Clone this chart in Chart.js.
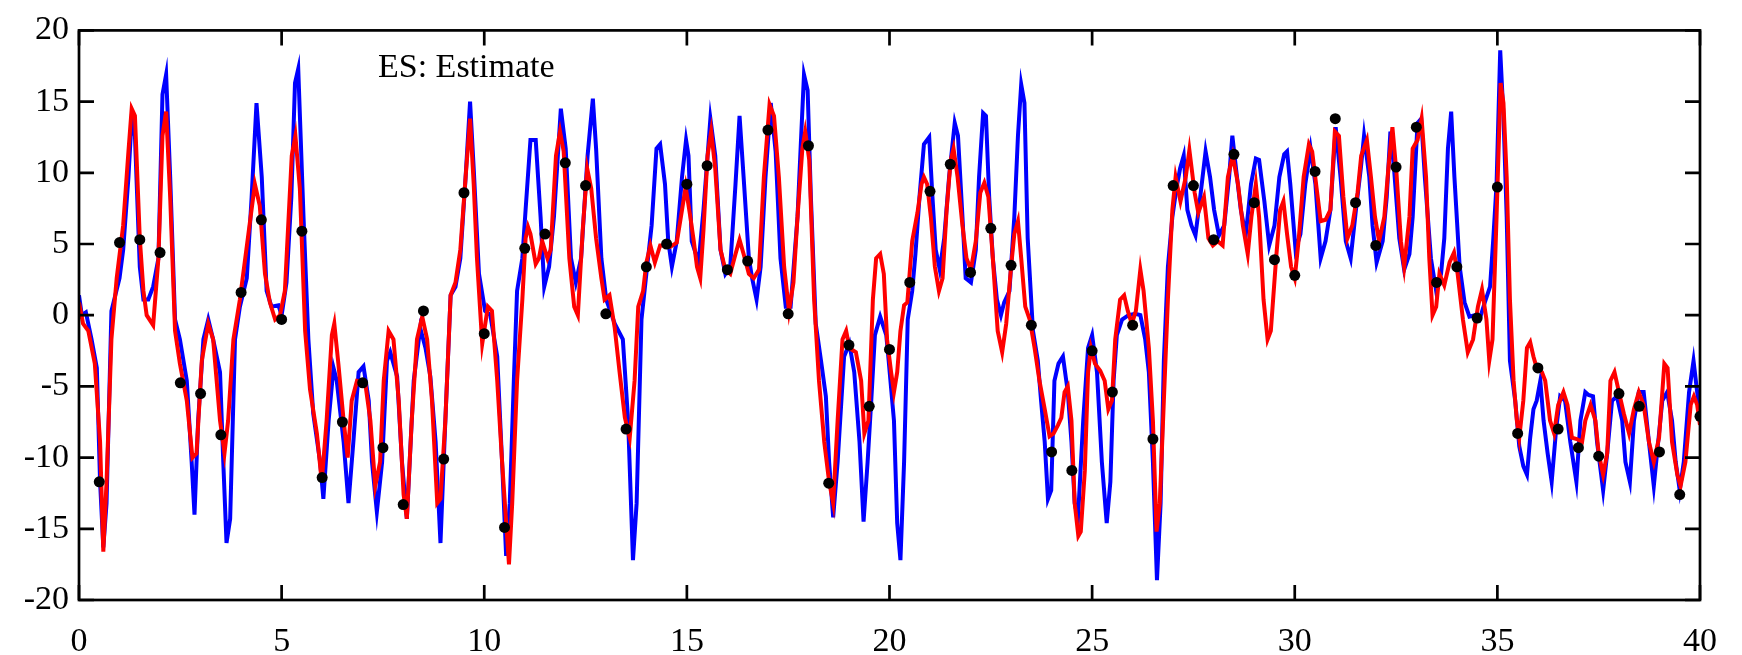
<!DOCTYPE html>
<html>
<head>
<meta charset="utf-8">
<title>ES: Estimate</title>
<script src="https://cdn.jsdelivr.net/npm/chart.js@4.4.1/dist/chart.umd.min.js"></script>
<style>
    html, body { margin: 0; padding: 0; background: #fff; }
    #wrap { width: 1742px; height: 655px; }
</style>
</head>
<body>
<div id="wrap"><canvas id="es_chart" width="1742" height="655"></canvas></div>
<script>
// true state (blue)
var trueX = [ 0, 0.07, 0.17, 0.31, 0.44, 0.52, 0.6, 0.68, 0.8, 1.0, 1.09, 1.22, 1.3, 1.38, 1.5, 1.59, 1.71, 1.83, 1.96, 2.06,
              2.15, 2.25, 2.37, 2.49, 2.66, 2.78, 2.85, 2.94, 3.07, 3.19, 3.31, 3.48, 3.56, 3.64, 3.73, 3.85, 3.97, 4.14, 4.26, 4.38,
              4.51, 4.63, 4.75, 4.92, 5.0, 5.12, 5.24, 5.33, 5.41, 5.54, 5.66, 5.78, 5.95, 6.03, 6.16, 6.28, 6.36, 6.53, 6.65, 6.77,
              6.9, 7.02, 7.15, 7.23, 7.35, 7.48, 7.6, 7.68, 7.85, 7.97, 8.09, 8.26, 8.42, 8.55, 8.67, 8.8, 8.92, 9.04, 9.17, 9.29,
              9.41, 9.54, 9.65, 9.74, 9.87, 10.02, 10.15, 10.32, 10.44, 10.54, 10.63, 10.73, 10.81, 10.94, 11.02, 11.14, 11.27, 11.39, 11.48, 11.6,
              11.72, 11.89, 12.01, 12.14, 12.26, 12.39, 12.55, 12.68, 12.76, 12.89, 13.01, 13.22, 13.42, 13.55, 13.67, 13.76, 13.88, 14.0, 14.13, 14.25,
              14.34, 14.46, 14.54, 14.63, 14.75, 14.88, 14.98, 15.04, 15.12, 15.29, 15.41, 15.58, 15.7, 15.83, 15.95, 16.07, 16.2, 16.3, 16.4, 16.53,
              16.61, 16.72, 16.82, 16.94, 17.07, 17.19, 17.31, 17.44, 17.56, 17.73, 17.89, 17.98, 18.06, 18.18, 18.31, 18.43, 18.51, 18.61, 18.72, 18.88,
              19.01, 19.13, 19.26, 19.36, 19.46, 19.55, 19.64, 19.77, 19.92, 19.98, 20.11, 20.19, 20.27, 20.36, 20.45, 20.56, 20.64, 20.74, 20.85, 20.98,
              21.06, 21.14, 21.24, 21.35, 21.47, 21.61, 21.69, 21.8, 21.88, 22.01, 22.13, 22.21, 22.31, 22.38, 22.46, 22.55, 22.65, 22.75, 22.83, 22.96,
              23.08, 23.17, 23.25, 23.33, 23.41, 23.54, 23.66, 23.74, 23.83, 23.91, 23.99, 24.07, 24.17, 24.28, 24.4, 24.49, 24.57, 24.65, 24.78, 24.9,
              25.0, 25.12, 25.24, 25.36, 25.45, 25.53, 25.61, 25.74, 25.9, 26.07, 26.19, 26.31, 26.4, 26.5, 26.6, 26.69, 26.77, 26.87, 26.98, 27.08,
              27.17, 27.26, 27.35, 27.45, 27.55, 27.68, 27.8, 27.91, 28.01, 28.13, 28.26, 28.38, 28.46, 28.55, 28.67, 28.79, 28.92, 29.04, 29.12, 29.25,
              29.37, 29.5, 29.62, 29.74, 29.81, 29.89, 30.02, 30.14, 30.26, 30.39, 30.51, 30.64, 30.76, 30.88, 31.01, 31.13, 31.26, 31.38, 31.51, 31.63,
              31.71, 31.84, 31.92, 32.02, 32.17, 32.27, 32.36, 32.45, 32.58, 32.7, 32.83, 32.91, 33.03, 33.12, 33.21, 33.36, 33.49, 33.61, 33.69, 33.78,
              33.86, 33.94, 34.07, 34.19, 34.31, 34.44, 34.56, 34.69, 34.82, 34.9, 34.98, 35.07, 35.15, 35.23, 35.31, 35.44, 35.54, 35.64, 35.73, 35.81,
              35.89, 35.97, 36.06, 36.14, 36.24, 36.34, 36.45, 36.55, 36.67, 36.8, 36.95, 37.05, 37.17, 37.25, 37.36, 37.46, 37.61, 37.71, 37.83, 37.95,
              38.08, 38.16, 38.27, 38.37, 38.49, 38.61, 38.74, 38.86, 38.94, 39.07, 39.19, 39.31, 39.4, 39.5, 39.6, 39.73, 39.84, 39.93, 40.0 ];
var trueY = [ 1.4, 0, 0.2, -1.7, -3.7, -11.7, -16.3, -13.2, 0.3, 2.6, 4.6, 9.7, 13.8, 12.6, 3.4, 1.1, 1.1, 2.0, 4.0, 15.5,
              16.9, 9.7, -0.3, -1.7, -4.6, -10.3, -14.0, -7.4, -1.7, -0.3, -1.7, -4.0, -10.3, -16.0, -14.3, -1.7, 0.6, 2.6, 8.3, 14.9,
              9.7, 1.7, 0.6, 0.7, 0, 2.3, 8.3, 16.3, 17.3, 6.9, -1.7, -6.9, -10.3, -12.9, -7.4, -3.7, -4.6, -8.9, -13.2, -8.9,
              -4.0, -3.6, -6.0, -10.3, -13.8, -10.3, -3.2, -2.6, -4.3, -10.3, -14.3, -4.6, -0.9, -2.3, -4.3, -8.9, -16.0, -7.4, 1.4, 2.0,
              4.0, 9.7, 15.0, 10.3, 2.9, 0.3, 0, -2.9, -10.3, -16.9, -13.2, -4.6, 1.7, 4.0, 7.4, 12.3, 12.3, 6.9, 2.0, 3.4,
              6.9, 14.5, 11.7, 4.0, 2.3, 4.0, 11.2, 15.2, 11.7, 4.0, 1.1, -0.6, -1.7, -7.4, -17.2, -13.2, -0.3, 2.9, 6.3, 11.7,
              12.0, 9.2, 5.2, 3.4, 5.2, 9.7, 12.3, 11.2, 5.2, 3.7, 7.4, 13.8, 11.2, 4.6, 2.9, 3.4, 9.2, 14.0, 9.7, 4.0,
              2.6, 1.1, 3.4, 9.7, 14.9, 11.5, 4.0, 0.6, 0.6, 6.9, 16.9, 15.8, 8.3, -0.6, -3.2, -5.7, -10.3, -14.2, -10.3, -2.9,
              -2.0, -4.0, -8.9, -14.5, -10.3, -6.0, -1.4, -0.1, -1.4, -3.2, -7.4, -14.6, -17.2, -10.3, -0.3, 1.7, 4.3, 8.3, 12.0, 12.5,
              8.3, 4.6, 3.2, 5.4, 9.7, 13.5, 12.6, 6.9, 2.6, 2.3, 4.6, 9.7, 14.2, 14.0, 8.3, 4.0, 1.1, 0, 0.9, 1.7,
              6.9, 12.6, 16.2, 14.9, 5.4, -1.1, -3.2, -6.0, -8.9, -12.9, -12.3, -4.6, -3.4, -2.9, -5.4, -8.9, -13.2, -14.3, -7.4, -2.3,
              -1.4, -4.0, -10.3, -14.6, -11.7, -4.6, -1.4, -0.3, 0, 0.1, 0, -1.7, -4.0, -10.3, -18.6, -13.2, -3.2, 3.4, 6.9, 8.9,
              10.3, 11.2, 7.4, 6.3, 5.6, 8.6, 11.5, 9.7, 7.4, 5.6, 6.3, 9.7, 12.6, 10.3, 7.4, 5.6, 9.2, 11.0, 10.9, 8.0,
              4.9, 6.3, 9.7, 11.3, 11.5, 9.2, 4.6, 5.7, 9.2, 11.7, 9.2, 4.0, 5.2, 7.4, 13.2, 9.7, 5.2, 4.0, 7.4, 10.3,
              12.6, 9.7, 6.3, 3.7, 5.2, 8.3, 12.9, 10.3, 5.4, 3.2, 4.3, 6.9, 13.5, 13.8, 9.7, 4.0, 1.7, 2.9, 5.4, 11.7,
              14.3, 9.7, 3.4, 0.9, -0.1, 0, -0.3, 0.9, 2.0, 5.4, 9.2, 18.6, 14.0, 6.9, -3.2, -6.0, -9.2, -10.6, -11.2, -8.6,
              -6.6, -6.0, -4.6, -7.4, -9.7, -11.7, -8.0, -5.7, -6.0, -8.9, -11.7, -7.4, -5.4, -5.6, -5.7, -8.9, -12.3, -9.7, -6.0, -5.7,
              -7.4, -10.3, -11.7, -7.4, -5.4, -5.4, -8.9, -12.0, -9.7, -6.0, -5.4, -7.4, -10.3, -12.3, -10.3, -5.4, -3.2, -5.4, -6.9 ];

// estimate (red)
var estX = [ 0, 0.1, 0.23, 0.39, 0.52, 0.6, 0.68, 0.8, 0.93, 1.09, 1.22, 1.3, 1.38, 1.5, 1.59, 1.67, 1.83, 1.96, 2.06, 2.15,
             2.25, 2.37, 2.49, 2.66, 2.8, 2.9, 3.03, 3.19, 3.31, 3.48, 3.59, 3.68, 3.81, 3.97, 4.18, 4.34, 4.46, 4.59, 4.71, 4.84,
             4.96, 5.08, 5.25, 5.34, 5.45, 5.58, 5.7, 5.87, 5.99, 6.11, 6.24, 6.3, 6.4, 6.53, 6.63, 6.73, 6.86, 7.06, 7.19, 7.31,
             7.43, 7.52, 7.64, 7.76, 7.89, 8.01, 8.09, 8.21, 8.34, 8.47, 8.59, 8.71, 8.84, 8.92, 9.04, 9.17, 9.29, 9.41, 9.54, 9.65,
             9.74, 9.82, 9.95, 10.09, 10.19, 10.32, 10.44, 10.61, 10.69, 10.81, 10.94, 11.02, 11.08, 11.14, 11.27, 11.35, 11.43, 11.56, 11.64, 11.77,
             11.87, 11.96, 12.1, 12.22, 12.31, 12.43, 12.54, 12.64, 12.76, 12.89, 12.97, 13.09, 13.22, 13.34, 13.47, 13.59, 13.71, 13.8, 13.92, 14.0,
             14.1, 14.21, 14.34, 14.46, 14.59, 14.75, 14.88, 14.97, 15.08, 15.17, 15.25, 15.33, 15.41, 15.51, 15.6, 15.7, 15.83, 15.95, 16.07, 16.2,
             16.3, 16.4, 16.53, 16.65, 16.78, 16.9, 17.04, 17.15, 17.27, 17.4, 17.52, 17.63, 17.73, 17.85, 17.92, 18.02, 18.14, 18.26, 18.39, 18.51,
             18.61, 18.72, 18.84, 18.93, 19.01, 19.17, 19.3, 19.38, 19.48, 19.59, 19.67, 19.77, 19.86, 19.94, 20.04, 20.11, 20.19, 20.27, 20.36, 20.44,
             20.56, 20.69, 20.79, 20.85, 20.93, 21.02, 21.12, 21.22, 21.31, 21.41, 21.51, 21.58, 21.68, 21.8, 21.9, 22.01, 22.13, 22.24, 22.34, 22.44,
             22.55, 22.67, 22.78, 22.88, 23.0, 23.08, 23.17, 23.25, 23.35, 23.46, 23.58, 23.7, 23.83, 23.95, 24.05, 24.16, 24.24, 24.32, 24.4, 24.49,
             24.57, 24.66, 24.72, 24.82, 24.9, 24.97, 25.07, 25.2, 25.31, 25.4, 25.49, 25.57, 25.69, 25.79, 25.88, 25.98, 26.08, 26.19, 26.27, 26.4,
             26.5, 26.59, 26.67, 26.77, 26.87, 26.98, 27.06, 27.18, 27.31, 27.4, 27.53, 27.62, 27.76, 27.87, 27.98, 28.1, 28.22, 28.35, 28.47, 28.6,
             28.72, 28.84, 28.93, 29.04, 29.12, 29.23, 29.33, 29.41, 29.54, 29.64, 29.72, 29.81, 29.91, 30.0, 30.1, 30.22, 30.35, 30.43, 30.54, 30.64,
             30.76, 30.88, 30.99, 31.09, 31.2, 31.3, 31.42, 31.55, 31.64, 31.78, 31.88, 31.98, 32.08, 32.21, 32.31, 32.41, 32.51, 32.62, 32.7, 32.83,
             32.91, 33.03, 33.13, 33.24, 33.32, 33.4, 33.49, 33.57, 33.69, 33.82, 33.93, 34.02, 34.15, 34.27, 34.4, 34.52, 34.62, 34.73, 34.8, 34.88,
             34.98, 35.08, 35.15, 35.23, 35.31, 35.4, 35.48, 35.54, 35.64, 35.73, 35.81, 35.89, 35.97, 36.1, 36.18, 36.3, 36.4, 36.5, 36.63, 36.73,
             36.84, 36.96, 37.09, 37.17, 37.3, 37.42, 37.5, 37.61, 37.71, 37.79, 37.89, 38.0, 38.12, 38.25, 38.37, 38.49, 38.61, 38.74, 38.86, 38.99,
             39.12, 39.2, 39.31, 39.44, 39.52, 39.64, 39.77, 39.85, 39.93, 40.0 ];
var estY = [ 0.9, -0.6, -1.1, -3.4, -8.9, -16.6, -11.7, -1.7, 2.6, 6.3, 11.5, 14.5, 14.0, 5.4, 1.7, 0, -0.7, 4.0, 12.6, 14.3,
             8.3, -1.1, -3.4, -6.0, -10.0, -9.7, -3.2, -0.6, -1.7, -7.4, -9.7, -7.4, -1.7, 1.1, 5.7, 9.2, 7.7, 2.9, 0.9, -0.3,
             0, 1.7, 11.2, 12.6, 8.9, -1.1, -5.2, -8.3, -11.7, -7.4, -1.4, -0.6, -3.4, -7.4, -10.0, -6.0, -4.6, -4.7, -7.4, -12.0,
             -10.3, -4.6, -1.1, -1.7, -6.0, -12.6, -14.3, -7.4, -1.7, -0.1, -1.7, -6.0, -13.2, -12.9, -7.4, 1.4, 2.3, 4.6, 9.7, 13.8,
             9.2, 4.0, -2.0, 0.6, 0.3, -4.6, -10.3, -17.5, -13.2, -4.6, 1.1, 5.4, 6.2, 5.7, 3.6, 4.0, 5.2, 4.0, 4.6, 11.2,
             12.9, 11.5, 4.0, 0.6, 0, 6.0, 10.3, 8.9, 5.4, 2.6, 1.1, 1.4, -0.9, -4.0, -7.2, -8.6, -4.6, 0.6, 1.7, 3.7,
             4.9, 3.7, 4.9, 4.9, 4.8, 5.1, 7.4, 9.0, 7.0, 5.2, 3.4, 2.6, 6.0, 11.2, 12.9, 10.3, 4.6, 3.2, 2.9, 4.3,
             5.3, 4.3, 2.9, 2.6, 3.2, 9.7, 14.8, 14.0, 9.7, 3.4, 0.3, 2.3, 6.9, 11.7, 12.9, 10.9, 1.1, -4.6, -8.9, -11.7,
             -13.2, -7.4, -1.7, -1.1, -2.3, -2.6, -4.6, -8.3, -7.4, 1.1, 4.0, 4.3, 2.9, -1.7, -4.0, -5.4, -4.0, -1.1, 0.7, 0.9,
             5.2, 7.2, 9.2, 9.7, 9.2, 6.9, 3.4, 1.7, 2.6, 7.4, 10.9, 11.7, 9.7, 6.3, 4.0, 3.2, 5.2, 8.6, 9.3, 8.3,
             4.0, -1.1, -2.6, -0.6, 3.4, 5.7, 6.6, 4.0, 0.6, -0.3, -2.3, -4.6, -6.6, -8.5, -8.3, -7.7, -7.2, -5.4, -5.0, -7.4,
             -13.2, -15.5, -15.2, -10.9, -4.0, -2.3, -3.4, -3.9, -4.6, -6.6, -6.0, -1.7, 1.1, 1.4, 0.3, -0.6, 0.3, 3.2, 1.7, -2.3,
             -7.4, -15.2, -13.2, -6.0, 1.1, 7.4, 9.7, 8.0, 9.7, 11.6, 8.6, 7.2, 8.3, 5.4, 4.9, 5.2, 4.9, 9.7, 11.2, 9.2,
             6.3, 4.3, 6.9, 9.2, 6.9, 1.1, -1.7, -1.1, 4.0, 7.4, 8.0, 5.7, 3.4, 2.6, 5.4, 9.7, 12.0, 11.5, 8.9, 6.6,
             6.7, 7.4, 12.9, 12.6, 8.3, 5.4, 6.3, 8.6, 11.2, 12.3, 9.7, 6.9, 5.2, 6.9, 10.3, 13.2, 10.0, 5.2, 3.4, 6.9,
             11.7, 12.3, 13.8, 9.7, 4.0, 0, 0.6, 2.9, 2.1, 3.7, 4.4, 2.9, -0.3, -2.6, -1.7, 0.6, 1.8, -0.3, -3.2, -1.7,
             6.9, 16.3, 14.9, 9.7, 1.1, -4.6, -7.4, -8.6, -6.0, -2.3, -1.9, -2.9, -3.7, -4.0, -4.6, -7.4, -8.3, -6.3, -5.4, -6.3,
             -8.6, -8.7, -8.9, -7.4, -6.3, -7.4, -9.7, -11.2, -9.7, -4.6, -4.0, -5.4, -6.9, -8.3, -6.6, -5.4, -6.3, -8.9, -10.3, -8.6,
             -3.4, -3.7, -8.9, -11.2, -12.0, -10.3, -6.3, -5.7, -6.3, -7.7 ];

// measurements (black dots)
var measX = [ 0.5, 1, 1.5, 2, 2.5, 3, 3.5, 4, 4.5, 5, 5.5, 6, 6.5, 7, 7.5, 8, 8.5, 9, 9.5, 10,
              10.5, 11, 11.5, 12, 12.5, 13, 13.5, 14, 14.5, 15, 15.5, 16, 16.5, 17, 17.5, 18, 18.5, 19, 19.5, 20,
              20.5, 21, 21.5, 22, 22.5, 23, 23.5, 24, 24.5, 25, 25.5, 26, 26.5, 27, 27.5, 28, 28.5, 29, 29.5, 30,
              30.5, 31, 31.5, 32, 32.5, 33, 33.5, 34, 34.5, 35, 35.5, 36, 36.5, 37, 37.5, 38, 38.5, 39, 39.5, 40 ];
var measY = [ -11.7, 5.1, 5.3, 4.4, -4.75, -5.5, -8.4, 1.6, 6.7, -0.3, 5.9, -11.4, -7.5, -4.75, -9.3, -13.3, 0.3, -10.1, 8.6, -1.3,
              -14.9, 4.7, 5.7, 10.7, 9.1, 0.1, -8.0, 3.4, 5.0, 9.2, 10.5, 3.2, 3.8, 13.0, 0.1, 11.9, -11.8, -2.1, -6.4, -2.4,
              2.3, 8.7, 10.6, 3.0, 6.1, 3.5, -0.7, -9.6, -10.9, -2.5, -5.4, -0.7, -8.7, 9.1, 9.1, 5.3, 11.3, 7.9, 3.9, 2.8,
              10.1, 13.8, 7.9, 4.9, 10.4, 13.2, 2.3, 3.4, -0.2, 9.0, -8.3, -3.7, -8.0, -9.3, -9.9, -5.5, -6.4, -9.6, -12.6, -7.1 ];

var xTicks = [ 0, 5, 10, 15, 20, 25, 30, 35, 40 ];
var yTicks = [ -20, -15, -10, -5, 0, 5, 10, 15, 20 ];
var keyTitle = "ES: Estimate";

var FONT = "'Liberation Serif', 'Times New Roman', serif";

function toPoints( xs, ys ) {
    return xs.map( function( x, i ){ return { x: x, y: ys[i] }; } );
}

// gnuplot-like frame: border, inward ticks on all four sides, key text
var framePlugin = {
    id: "frame",
    afterDatasetsDraw: function( chart ) {
        var ctx = chart.ctx,
            a   = chart.chartArea,
            sx  = chart.scales.x,
            sy  = chart.scales.y,
            len = 15;

        ctx.save();
        ctx.strokeStyle = "#000";
        ctx.lineWidth   = 2.7;
        ctx.beginPath();
        xTicks.forEach( function( v ) {
            var px = sx.getPixelForValue( v );
            ctx.moveTo( px, a.bottom ); ctx.lineTo( px, a.bottom - len );
            ctx.moveTo( px, a.top );    ctx.lineTo( px, a.top + len );
        });
        yTicks.forEach( function( v ) {
            var py = sy.getPixelForValue( v );
            ctx.moveTo( a.left, py );  ctx.lineTo( a.left + len, py );
            ctx.moveTo( a.right, py ); ctx.lineTo( a.right - len, py );
        });
        ctx.stroke();
        ctx.strokeRect( a.left, a.top, a.right - a.left, a.bottom - a.top );

        ctx.fillStyle    = "#000";
        ctx.font         = "34px " + FONT;
        ctx.textAlign    = "left";
        ctx.textBaseline = "alphabetic";
        ctx.fillText( keyTitle, a.left + 299, a.top + 47 );
        ctx.restore();
    }
};

var tickFont = { family: FONT, size: 34 };

new Chart( document.getElementById( "es_chart" ).getContext( "2d" ), {
    type: "line",
    data: {
        datasets: [
            {
                label: "measurement", type: "scatter", order: 0,
                data: toPoints( measX, measY ),
                pointRadius: 5.5, pointBackgroundColor: "#000", pointBorderWidth: 0, showLine: false
            },
            {
                label: "estimate", order: 1,
                data: toPoints( estX, estY ),
                borderColor: "#ff0000", borderWidth: 4, pointRadius: 0, tension: 0, fill: false
            },
            {
                label: "true", order: 2,
                data: toPoints( trueX, trueY ),
                borderColor: "#0000ff", borderWidth: 4, pointRadius: 0, tension: 0, fill: false
            }
        ]
    },
    options: {
        responsive: false,
        animation: false,
        devicePixelRatio: 1,
        layout: { padding: { top: 20, right: 42, left: 0, bottom: 0 } },
        plugins: { legend: { display: false }, tooltip: { enabled: false }, title: { display: false } },
        scales: {
            x: {
                type: "linear", min: 0, max: 40,
                grid: { display: false, drawTicks: false }, border: { display: false },
                afterBuildTicks: function( s ){ s.ticks = xTicks.map( function( v ){ return { value: v }; } ); },
                afterFit: function( s ){ s.height = 55; },
                ticks: { font: tickFont, color: "#000", padding: 22, maxRotation: 0, autoSkip: false,
                         callback: function( v ){ return String( v ); } }
            },
            y: {
                type: "linear", min: -20, max: 20,
                grid: { display: false, drawTicks: false }, border: { display: false },
                afterBuildTicks: function( s ){ s.ticks = yTicks.map( function( v ){ return { value: v }; } ); },
                afterFit: function( s ){ s.width = 79; },
                ticks: { font: tickFont, color: "#000", padding: 10,
                         callback: function( v ){ return String( v ); } }
            }
        }
    },
    plugins: [ framePlugin ]
} );
</script>
</body>
</html>
